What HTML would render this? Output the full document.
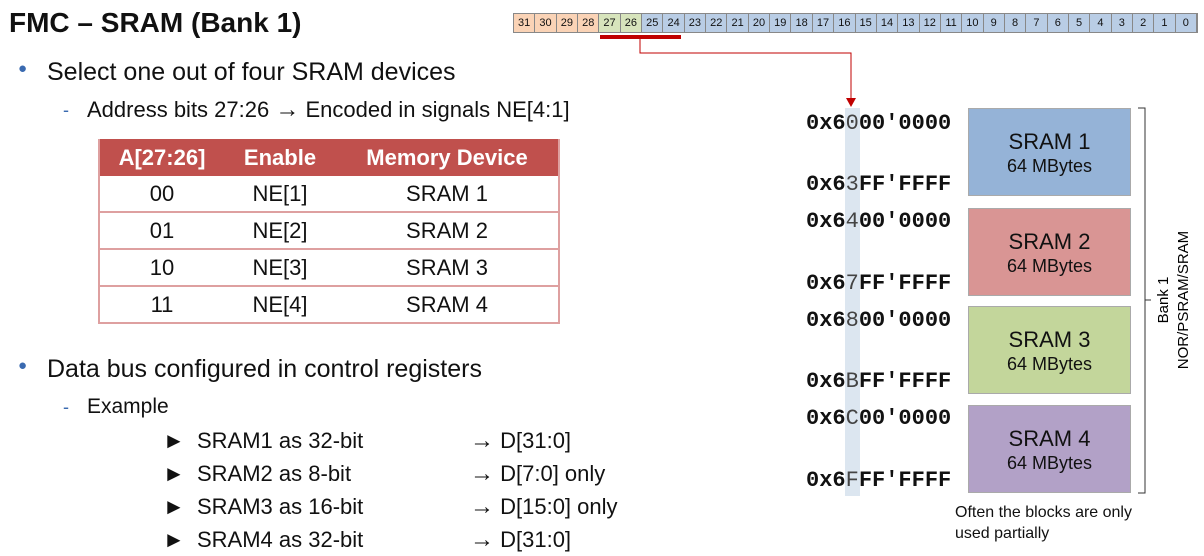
<!DOCTYPE html>
<html><head><meta charset="utf-8"><style>
body{margin:0;width:1204px;height:556px;background:#fff;position:relative;overflow:hidden;font-family:"Liberation Sans",sans-serif;color:#111}
.a{position:absolute;white-space:nowrap}
.mono{font-family:"Liberation Mono",monospace;font-weight:bold;font-size:22px}
.blk{position:absolute;left:968px;width:163px;border:1px solid #aaa;text-align:center;box-sizing:border-box}
.blk b{display:block;font-weight:normal;font-size:22px;margin-top:20px}
.blk i{display:block;font-style:normal;font-size:18px;margin-top:1px}
table{border-collapse:collapse}
td{text-align:center;font-size:22px;height:35px;border-bottom:2px solid #dea0a0;padding:0}
</style></head><body>
<div class="a" style="left:9px;top:7px;font-size:28px;font-weight:bold">FMC – SRAM (Bank 1)</div>

<div class="a" style="left:18px;top:60px;font-size:15px;color:#3a6ab0">●</div>
<div class="a" style="left:47px;top:58px;font-size:25px">Select one out of four SRAM devices</div>
<div class="a" style="left:63px;top:100px;font-size:18px;color:#3a6ab0">-</div>
<div class="a" style="left:87px;top:97px;font-size:22px">Address bits 27:26 <span style="font-size:24px;line-height:1">→</span> Encoded in signals NE[4:1]</div>

<table class="a" style="left:98px;top:139px;width:462px;border:2px solid #dea0a0;border-top:none">
<tr style="background:#c0504d;color:#fff"><td style="width:124px;font-weight:bold;height:37px;border:none">A[27:26]</td><td style="width:112px;font-weight:bold;border:none">Enable</td><td style="font-weight:bold;border:none">Memory Device</td></tr>
<tr><td>00</td><td>NE[1]</td><td>SRAM 1</td></tr>
<tr><td>01</td><td>NE[2]</td><td>SRAM 2</td></tr>
<tr><td>10</td><td>NE[3]</td><td>SRAM 3</td></tr>
<tr><td>11</td><td>NE[4]</td><td>SRAM 4</td></tr>
</table>

<div class="a" style="left:18px;top:357px;font-size:15px;color:#3a6ab0">●</div>
<div class="a" style="left:47px;top:355px;font-size:25px">Data bus configured in control registers</div>
<div class="a" style="left:63px;top:397px;font-size:18px;color:#3a6ab0">-</div>
<div class="a" style="left:87px;top:395px;font-size:21px">Example</div>
<div class="a" style="left:163px;top:424px;font-size:22px;line-height:33px">►&nbsp;&nbsp;SRAM1 as 32-bit<br>►&nbsp;&nbsp;SRAM2 as 8-bit<br>►&nbsp;&nbsp;SRAM3 as 16-bit<br>►&nbsp;&nbsp;SRAM4 as 32-bit</div>
<div class="a" style="left:470px;top:424px;font-size:22px;line-height:33px"><span style="font-size:24px">→</span> D[31:0]<br><span style="font-size:24px">→</span> D[7:0] only<br><span style="font-size:24px">→</span> D[15:0] only<br><span style="font-size:24px">→</span> D[31:0]</div>

<svg class="a" style="left:0;top:0" width="1204" height="556">
<rect x="600" y="35" width="81" height="4" fill="#c00000"/>
<polyline points="640,39 640,53 851,53 851,100" fill="none" stroke="#c00000" stroke-width="1"/>
<polygon points="846,98 856,98 851,107" fill="#c00000"/>
<rect x="845" y="108" width="15" height="388" fill="#dce6f0"/>
<path d="M1138,108 H1145 V493 H1138 M1145,300 H1151" fill="none" stroke="#333" stroke-width="1"/>
<text x="1168" y="300" transform="rotate(-90 1168 300)" font-family="Liberation Sans" font-size="15" text-anchor="middle">Bank 1</text>
<text x="1188" y="300" transform="rotate(-90 1188 300)" font-family="Liberation Sans" font-size="15" text-anchor="middle">NOR/PSRAM/SRAM</text>
</svg>
<div id="reg" class="a" style="left:513px;top:13px;height:18px;display:flex;border:1px solid #888"></div>
<script>
var r=document.getElementById('reg'),h='';
for(var i=31;i>=0;i--){var c=i>=28?'#fad3b6':(i>=26?'#d7e4bc':'#b9cde5');
h+='<div style="width:20.35px;height:18px;border-right:1px solid #888;background:'+c+';font-size:11px;line-height:18px;text-align:center">'+i+'</div>';}
r.innerHTML=h;
</script>

<div class="a mono" style="left:806px;top:111px">0x6<span style="font-weight:normal;color:#444">0</span>00'0000</div>
<div class="a mono" style="left:806px;top:172px">0x6<span style="font-weight:normal;color:#444">3</span>FF'FFFF</div>
<div class="a mono" style="left:806px;top:209px">0x6<span style="font-weight:normal;color:#444">4</span>00'0000</div>
<div class="a mono" style="left:806px;top:271px">0x6<span style="font-weight:normal;color:#444">7</span>FF'FFFF</div>
<div class="a mono" style="left:806px;top:308px">0x6<span style="font-weight:normal;color:#444">8</span>00'0000</div>
<div class="a mono" style="left:806px;top:369px">0x6<span style="font-weight:normal;color:#444">B</span>FF'FFFF</div>
<div class="a mono" style="left:806px;top:406px">0x6<span style="font-weight:normal;color:#444">C</span>00'0000</div>
<div class="a mono" style="left:806px;top:468px">0x6<span style="font-weight:normal;color:#444">F</span>FF'FFFF</div>

<div class="blk" style="top:108px;height:88px;background:#95b3d7"><b>SRAM 1</b><i>64 MBytes</i></div>
<div class="blk" style="top:208px;height:88px;background:#d99594"><b>SRAM 2</b><i>64 MBytes</i></div>
<div class="blk" style="top:306px;height:88px;background:#c3d69b"><b>SRAM 3</b><i>64 MBytes</i></div>
<div class="blk" style="top:405px;height:88px;background:#b2a1c7"><b>SRAM 4</b><i>64 MBytes</i></div>
<div class="a" style="left:955px;top:502px;font-size:16px;line-height:21px">Often the blocks are only<br>used partially</div>
</body></html>
